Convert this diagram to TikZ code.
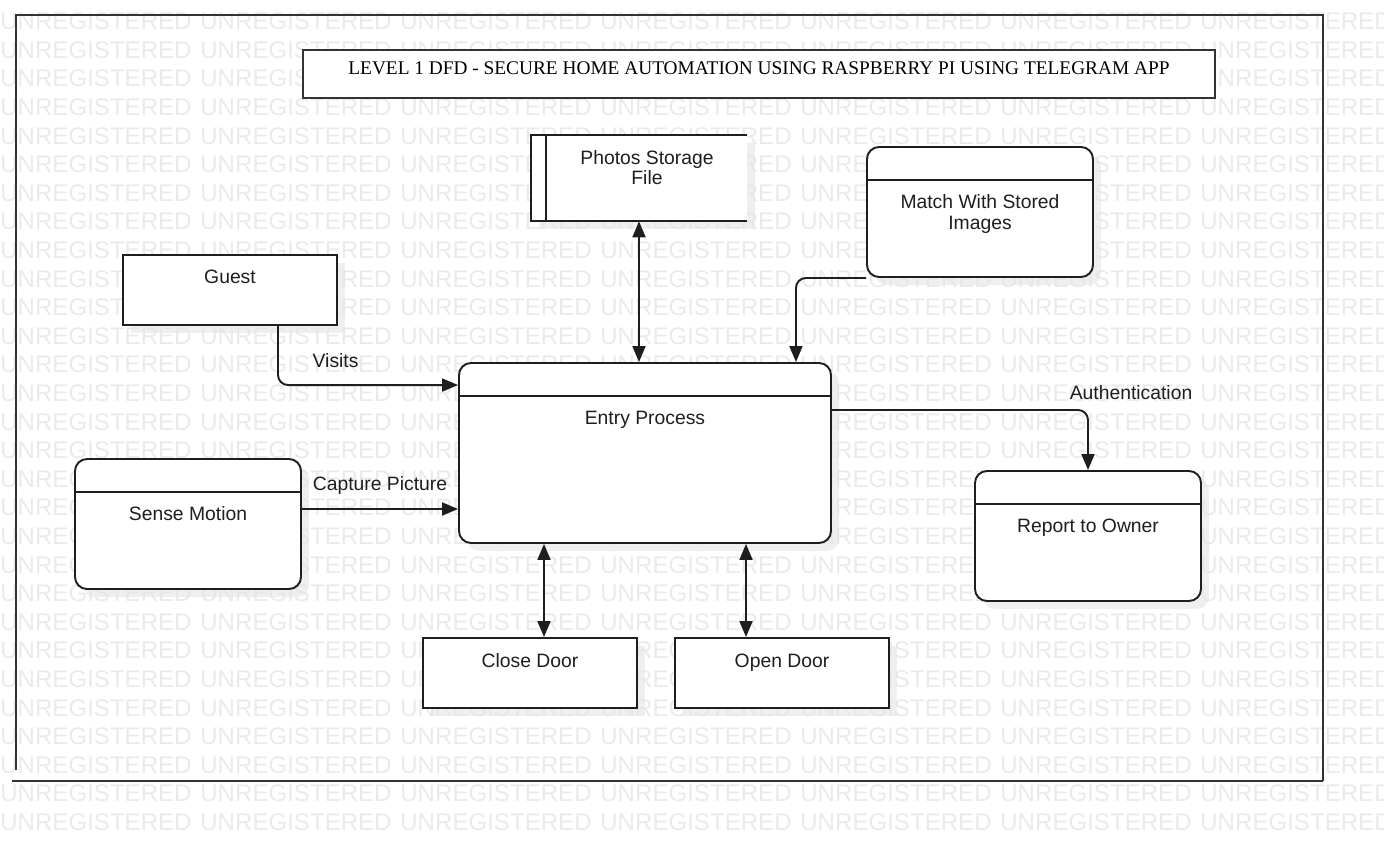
\documentclass[tikz,border=0pt]{standalone}
\usepackage{fontspec}
\setmainfont{Liberation Serif}
\setsansfont{Liberation Sans}
\usetikzlibrary{arrows.meta,positioning,shadows}
\definecolor{ink}{HTML}{1E1E1E}
\definecolor{framegray}{HTML}{333333}
\definecolor{wmgray}{HTML}{EAEAEA}
\tikzset{
  softshadow/.style={drop shadow={fill=black!10, opacity=0.6,
      shadow xshift=1.6mm, shadow yshift=-1.6mm}},
  entity/.style={rectangle, draw=ink, fill=white, line width=1.1pt,
    minimum width=42.8mm, minimum height=14mm, inner sep=0pt, softshadow},
  process/.style={rectangle, rounded corners=2.4mm, draw=ink, fill=white,
    line width=1.1pt, minimum width=#1, minimum height=26mm, inner sep=0pt,
    softshadow},
  process/.default=45.2mm,
  boxtext/.style={font=\sffamily\fontsize{11}{11.4}\selectfont, align=center,
    text=ink, inner sep=0pt},
  flowlabel/.style={font=\sffamily\fontsize{11}{13}\selectfont, text=ink,
    inner sep=0pt},
  flow/.style={-{Triangle[length=3.2mm, width=2.6mm]}, draw=ink,
    line width=1.1pt, rounded corners=2mm},
  biflow/.style={{Triangle[length=3.2mm, width=2.6mm]}-{Triangle[length=3.2mm, width=2.6mm]},
    draw=ink, line width=1.1pt},
  wmtext/.style={font=\sffamily\fontsize{13.7}{14}\selectfont, text=wmgray,
    anchor=west, inner sep=0pt},
}

\begin{document}
\begin{tikzpicture}[x=0.2mm, y=-0.2mm]
  \useasboundingbox (0,0) rectangle (1384,844);
  % watermark
  \foreach \r in {0,...,28}
    \foreach \c in {0,...,6}
      \node[wmtext] (wm-\r-\c) at (\c*200, 21.5+\r*28.6) {UNREGISTERED};

  % frame
  \draw[framegray, line width=1.1pt] (16,770) -- (16,15) -- (1323,15) -- (1323,781);
  \draw[framegray, line width=1.1pt] (12,781) -- (1323,781);

  % title
  \node[draw=framegray, fill=white, line width=1.1pt, minimum width=182.4mm,
        minimum height=9.6mm, inner sep=0pt, font=\fontsize{11}{13}\selectfont,
        text height=7.3pt, text depth=6.8pt] (title) at (759,74)
        {LEVEL 1 DFD - SECURE HOME AUTOMATION USING RASPBERRY PI USING TELEGRAM APP};

  % data store
  \node[rectangle, fill=white, minimum width=43.2mm, minimum height=17.2mm,
        softshadow] (store) at (639,178) {};
  \draw[ink, line width=1.1pt] (store.north east) -- (store.north west)
    -- (store.south west) -- (store.south east);
  \draw[ink, line width=1.1pt] ([xshift=3mm]store.north west) -- ([xshift=3mm]store.south west);
  \node[boxtext] (storetxt) at (647,168) {Photos Storage\\File};

  % processes and entities
  \node[process] (match) at (980,212) {};
  \node[entity] (guest) at (230,290) {};
  \node[process=74.4mm, minimum height=36mm] (entry) at (645,453) {};
  \node[process] (sense) at (188,524) {};
  \node[process] (report) at (1088,536) {};
  \node[entity] (close) at (530,673) {};
  \node[entity] (open) at (782,673) {};
  \foreach \n in {match,entry,sense,report}
    \draw[ink, line width=1.1pt] ([yshift=-6.8mm]\n.north west) -- ([yshift=-6.8mm]\n.north east);

  \node[boxtext] (matchtxt) at (980,214) {Match With Stored\\Images};
  \node[boxtext] (guesttxt) at (230,277) {Guest};
  \node[boxtext] (entrytxt) at (645,420) {Entry Process};
  \node[boxtext] (sensetxt) at (188,514) {Sense Motion};
  \node[boxtext] (reporttxt) at (1088,528) {Report to Owner};
  \node[boxtext] (closetxt) at (530,661) {Close Door};
  \node[boxtext] (opentxt) at (782,663) {Open Door};

  % flows
  \draw[biflow] (store.south) -- (store.south |- entry.north);
  \coordinate (matchin) at ([xshift=-7.2mm]entry.north east);
  \draw[flow] (match.south west) -| (matchin);
  \coordinate (visitin) at ([yshift=-4.6mm]entry.north west);
  \draw[flow] ([xshift=9.6mm]guest.south) |- (visitin)
    node[flowlabel, pos=0.66, above=3.2mm] (visits) {Visits};
  \coordinate (capstart) at ([yshift=3mm]sense.east);
  \draw[flow] (capstart) -- (capstart -| entry.west)
    node[flowlabel, midway, above=2.8mm] (capture) {Capture Picture};
  \coordinate (authstart) at ([yshift=8.6mm]entry.east);
  \draw[flow] (authstart) -| (report.north)
    node[flowlabel, pos=0.5, above=1.8mm, xshift=8.6mm] (auth) {Authentication};
  \draw[biflow] ([xshift=2.8mm]close.north) -- ([xshift=2.8mm]close.north |- entry.south);
  \draw[biflow] ([xshift=-7.2mm]open.north) -- ([xshift=-7.2mm]open.north |- entry.south);
\end{tikzpicture}
\end{document}
